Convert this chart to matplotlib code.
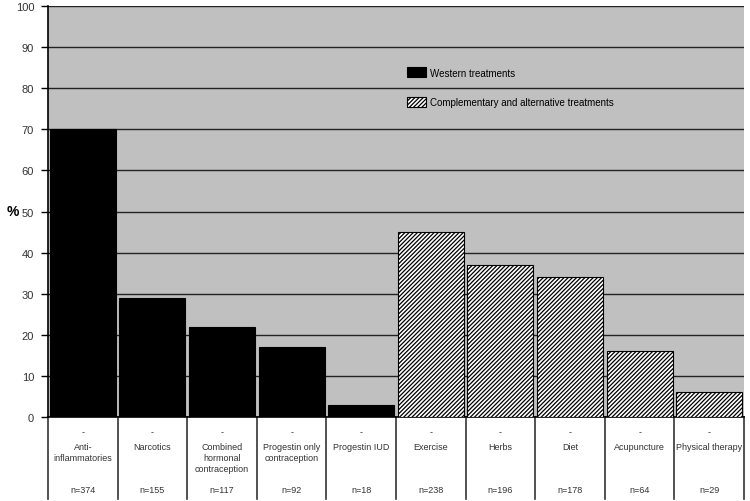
import matplotlib.pyplot as plt
import numpy as np

plt.rcParams['font.family'] = ['Liberation Sans', 'DejaVu Sans']
plt.rcParams['hatch.linewidth'] = 0.9

categories = ['Anti-\ninflammatories', 'Narcotics', 'Combined\nhormonal\ncontraception',
              'Progestin only\ncontraception', 'Progestin IUD', 'Exercise', 'Herbs', 'Diet',
              'Acupuncture', 'Physical therapy']
values = [70, 29, 22, 17, 3, 45, 37, 34, 16, 6]
n_counts = [374, 155, 117, 92, 18, 238, 196, 178, 64, 29]
is_western = [True] * 5 + [False] * 5

fig = plt.figure(figsize=(7.5, 5.02), dpi=100)
ax = fig.add_axes([0.064, 0.167, 0.928, 0.819])
ax.set_facecolor('#c0c0c0')

x = np.arange(len(values))
west = [i for i in x if is_western[i]]
alt = [i for i in x if not is_western[i]]
ax.bar(west, [values[i] for i in west], width=0.95, color='black', edgecolor='black',
       linewidth=0.8, label='Western treatments', zorder=3)
ax.bar(alt, [values[i] for i in alt], width=0.95, color='white', edgecolor='black',
       hatch='////////', linewidth=0.8, label='Complementary and alternative treatments', zorder=3)

ax.set_xlim(-0.5, len(values) - 0.5)
ax.set_ylim(0, 100)
ax.set_yticks(range(0, 101, 10))
ax.yaxis.grid(True, color='#222222', linewidth=1.0)
ax.set_axisbelow(True)
ax.set_xticks([])
for s in ['top', 'right']:
    ax.spines[s].set_visible(False)
ax.spines['left'].set_linewidth(1.2)
ax.spines['bottom'].set_linewidth(1.2)
ax.tick_params(axis='y', labelsize=8, length=5, width=1, pad=5, colors='black', labelcolor='#333333')
fig.text(0.017, 0.578, '%', fontsize=10, fontweight='bold', ha='center', va='center')

# table under the axis
tr = ax.get_xaxis_transform()
for b in np.arange(-0.5, len(values), 1.0):
    ax.plot([b, b], [0, -0.2], transform=tr, color='#333333', linewidth=1.2, clip_on=False)
for i, (c, n) in enumerate(zip(categories, n_counts)):
    ax.text(i, -0.035, '-', transform=tr, ha='center', va='center', fontsize=6.5, color='#333333')
    ax.text(i, -0.06, c, transform=tr, ha='center', va='top', fontsize=6.5, color='#333333',
            linespacing=1.3)
    ax.text(i, -0.175, 'n=%d' % n, transform=tr, ha='center', va='center', fontsize=6.5,
            color='#333333')

ax.legend(loc='upper left', bbox_to_anchor=(0.503, 0.872), frameon=False, fontsize=7,
          handlelength=2.0, handleheight=1.2, labelspacing=2.0, handletextpad=0.4)

fig.savefig('out.png', dpi=100)
